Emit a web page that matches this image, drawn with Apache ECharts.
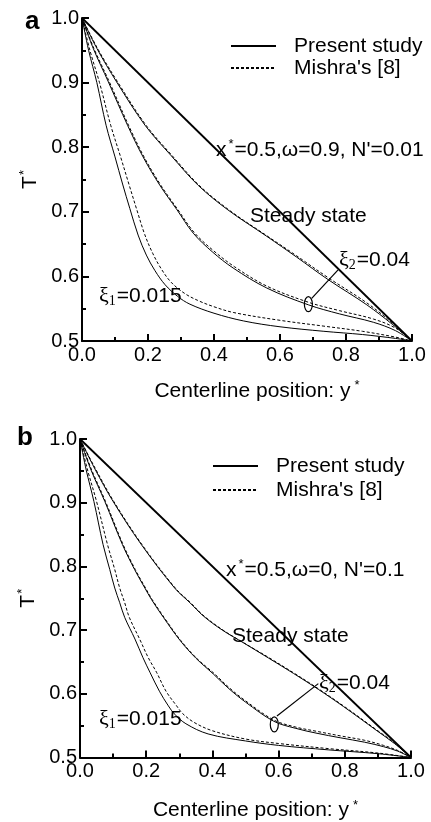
<!DOCTYPE html>
<html>
<head>
<meta charset="utf-8">
<script src="https://cdn.jsdelivr.net/npm/echarts@6/dist/echarts.min.js"></script>
<style>
html,body{margin:0;padding:0;background:#fff;}
#c{width:431px;height:822px;}
</style>
</head>
<body>
<div id="c"></div>
<script>
// ---------- data (x = centerline position y*, value = T*) ----------
const xTickValues = [0.0, 0.2, 0.4, 0.6, 0.8, 1.0];
const yTickValues = [0.5, 0.6, 0.7, 0.8, 0.9, 1.0];

// Panel a : x*=0.5, omega=0.9, N'=0.01
const aSteady = [[0, 1], [1, 0.5]];
const aPresentMid = [[0,1],[0.045,0.953],[0.105,0.901],[0.191,0.834],[0.27,0.787],[0.352,0.741],[0.442,0.703],[0.56,0.662],[0.65,0.63],[0.746,0.595],[0.863,0.556],[0.94,0.526],[1,0.5]];
const aMishraMid  = [[0,1],[0.047,0.953],[0.108,0.901],[0.194,0.834],[0.273,0.787],[0.355,0.741],[0.445,0.703],[0.56,0.663],[0.65,0.632],[0.746,0.598],[0.863,0.559],[0.94,0.528],[1,0.5]];
const aPresentXi2 = [[0,1],[0.034,0.953],[0.08,0.901],[0.138,0.834],[0.185,0.785],[0.236,0.741],[0.288,0.703],[0.337,0.667],[0.395,0.638],[0.458,0.613],[0.56,0.582],[0.686,0.556],[0.78,0.542],[0.883,0.529],[0.95,0.516],[1,0.5]];
const aMishraXi2  = [[0,1],[0.036,0.953],[0.083,0.901],[0.141,0.834],[0.188,0.785],[0.239,0.741],[0.291,0.703],[0.34,0.668],[0.398,0.64],[0.462,0.615],[0.56,0.585],[0.686,0.56],[0.78,0.547],[0.883,0.534],[0.95,0.52],[1,0.5]];
const aPresentXi1 = [[0,1],[0.02,0.95],[0.045,0.9],[0.073,0.834],[0.1,0.785],[0.123,0.743],[0.145,0.705],[0.17,0.664],[0.195,0.633],[0.221,0.609],[0.252,0.587],[0.29,0.569],[0.327,0.557],[0.4,0.543],[0.49,0.531],[0.6,0.522],[0.733,0.515],[0.85,0.51],[0.95,0.504],[1,0.5]];
const aMishraXi1  = [[0,1],[0.024,0.95],[0.053,0.9],[0.087,0.834],[0.117,0.785],[0.142,0.743],[0.165,0.705],[0.19,0.665],[0.215,0.635],[0.241,0.611],[0.27,0.591],[0.31,0.574],[0.35,0.563],[0.4,0.553],[0.46,0.544],[0.6,0.532],[0.733,0.523],[0.85,0.515],[0.95,0.506],[1,0.5]];

// Panel b : x*=0.5, omega=0, N'=0.1
const bSteady = [[0, 1], [1, 0.5]];
const bPresentMid = [[0,1],[0.045,0.953],[0.1,0.902],[0.185,0.8345],[0.286,0.766],[0.332,0.743],[0.373,0.722],[0.43,0.7],[0.494,0.68],[0.57,0.656],[0.645,0.632],[0.72,0.607],[0.796,0.58],[0.897,0.542],[0.95,0.522],[1,0.5]];
const bMishraMid  = [[0,1],[0.047,0.953],[0.102,0.902],[0.187,0.8345],[0.288,0.766],[0.334,0.743],[0.375,0.722],[0.432,0.7],[0.495,0.68],[0.57,0.657],[0.645,0.633],[0.72,0.608],[0.796,0.581],[0.897,0.543],[0.95,0.523],[1,0.5]];
const bPresentXi2 = [[0,1],[0.032,0.953],[0.075,0.902],[0.128,0.8345],[0.165,0.795],[0.196,0.766],[0.216,0.748],[0.252,0.72],[0.302,0.684],[0.35,0.656],[0.403,0.631],[0.45,0.608],[0.5,0.587],[0.585,0.557],[0.65,0.546],[0.716,0.538],[0.786,0.531],[0.86,0.524],[0.917,0.517],[0.96,0.51],[1,0.5]];
const bMishraXi2  = [[0,1],[0.034,0.953],[0.077,0.902],[0.13,0.8345],[0.167,0.795],[0.198,0.766],[0.218,0.748],[0.254,0.72],[0.304,0.684],[0.352,0.656],[0.405,0.632],[0.452,0.609],[0.5,0.589],[0.585,0.559],[0.65,0.548],[0.716,0.541],[0.786,0.534],[0.86,0.527],[0.917,0.519],[0.96,0.511],[1,0.5]];
const bPresentXi1 = [[0,1],[0.018,0.953],[0.042,0.902],[0.0696,0.8345],[0.09,0.795],[0.105,0.766],[0.12,0.743],[0.135,0.72],[0.166,0.686],[0.19,0.657],[0.212,0.633],[0.24,0.604],[0.267,0.581],[0.286,0.568],[0.32,0.553],[0.387,0.537],[0.5,0.526],[0.6,0.519],[0.75,0.512],[0.9,0.506],[1,0.5]];
const bMishraXi1  = [[0,1],[0.022,0.953],[0.05,0.902],[0.083,0.8345],[0.105,0.795],[0.12,0.766],[0.135,0.743],[0.149,0.72],[0.181,0.685],[0.206,0.657],[0.232,0.633],[0.26,0.604],[0.292,0.581],[0.31,0.569],[0.345,0.555],[0.4,0.542],[0.5,0.529],[0.6,0.522],[0.75,0.514],[0.9,0.507],[1,0.5]];

// annotation anchors (data coordinates): pointer start, pointer end, ellipse centre
const aPointer = [[0.776, 0.61], [0.696, 0.566]];
const aEllipse = [0.686, 0.557];
const bPointer = [[0.72, 0.616], [0.595, 0.565]];
const bEllipse = [0.587, 0.552];

const legendNames = ['Present study', "Mishra's [8]"];

// ---------- chart ----------
const FONT = "'Liberation Sans', Arial, sans-serif";
const chart = echarts.init(document.getElementById('c'), null, {renderer: 'canvas'});

function xAx(gi, gap) {
  return {
    type: 'value', gridIndex: gi, min: 0, max: 1, interval: 0.2,
    name: '{t|Centerline position: y}{s|*}',
    nameLocation: 'middle', nameGap: gap,
    nameTextStyle: {
      rich: {
        t: {fontSize: 21, fontFamily: FONT, color: '#000', lineHeight: 24, padding: [0, 0, 0, 20]},
        s: {fontSize: 13, fontFamily: FONT, color: '#000', lineHeight: 12, verticalAlign: 'top', padding: [0, 0, 0, 4]}
      }
    },
    axisLine: {show: true, onZero: false, lineStyle: {color: '#000', width: 2}},
    axisTick: {show: true, inside: true, length: 7, lineStyle: {color: '#000', width: 2}},
    minorTick: {show: true, splitNumber: 2, length: 4, lineStyle: {color: '#000', width: 2}},
    splitLine: {show: false}, minorSplitLine: {show: false},
    axisLabel: {color: '#000', fontSize: 20, fontFamily: FONT, margin: 4,
      formatter: v => Number(v).toFixed(1)}
  };
}
function yAx(gi) {
  return {
    type: 'value', gridIndex: gi, min: 0.5, max: 1.0, interval: 0.1,
    name: '{t|T}{s|*}',
    nameLocation: 'middle', nameGap: 40, nameRotate: 90,
    nameTextStyle: {
      rich: {
        t: {fontSize: 21, fontFamily: FONT, color: '#000', lineHeight: 24},
        s: {fontSize: 13, fontFamily: FONT, color: '#000', lineHeight: 12, verticalAlign: 'top', padding: [0, 0, 0, 1]}
      }
    },
    axisLine: {show: true, onZero: false, lineStyle: {color: '#000', width: 2}},
    axisTick: {show: true, inside: true, length: 7, lineStyle: {color: '#000', width: 2}},
    minorTick: {show: true, splitNumber: 2, length: 4, lineStyle: {color: '#000', width: 2}},
    splitLine: {show: false}, minorSplitLine: {show: false},
    axisLabel: {color: '#000', fontSize: 20, fontFamily: FONT, margin: 3,
      formatter: v => Number(v).toFixed(1)}
  };
}
function solid(data, gi, w) {
  return {type: 'line', name: legendNames[0], xAxisIndex: gi, yAxisIndex: gi, data: data,
    showSymbol: false, symbol: 'none', smooth: 0.35, animation: false,
    itemStyle: {color: '#000'},
    lineStyle: {color: '#000', width: w || 1, type: 'solid'}, z: 3};
}
function dashed(data, gi) {
  return {type: 'line', name: legendNames[1], xAxisIndex: gi, yAxisIndex: gi, data: data,
    showSymbol: false, symbol: 'none', smooth: 0.35, animation: false,
    itemStyle: {color: '#000'},
    lineStyle: {color: '#000', width: 1, type: [3, 2]}, z: 2};
}
function legend(left, top, lh) {
  return {
    show: true, orient: 'vertical', left: left, top: top, itemWidth: 45, itemHeight: 12,
    itemGap: 0, selectedMode: false, data: legendNames,
    itemStyle: {opacity: 0},
    textStyle: {fontSize: 21, fontFamily: FONT, color: '#000', lineHeight: lh, padding: [0, 0, 0, 13]}
  };
}

const option = {
  backgroundColor: '#fff',
  animation: false,
  grid: [
    {left: 82, top: 18, width: 330, height: 323, containLabel: false},
    {left: 80, top: 439, width: 331, height: 322, containLabel: false}
  ],
  xAxis: [xAx(0, 38), xAx(1, 41)],
  yAxis: [yAx(0), yAx(1)],
  legend: [legend(225, 30, 22), legend(207, 449, 24)],
  series: [
    solid(aPresentMid, 0), dashed(aMishraMid, 0),
    solid(aPresentXi2, 0), dashed(aMishraXi2, 0),
    solid(aPresentXi1, 0), dashed(aMishraXi1, 0),
    solid(aSteady, 0, 1.8),
    solid(bPresentMid, 1), dashed(bMishraMid, 1),
    solid(bPresentXi2, 1), dashed(bMishraXi2, 1),
    solid(bPresentXi1, 1), dashed(bMishraXi1, 1),
    solid(bSteady, 1, 1.8)
  ]
};
chart.setOption(option);

// ---------- annotations ----------
const richBase = {
  n: {fontSize: 21, fontFamily: FONT, color: '#000', lineHeight: 24},
  g: {fontSize: 22, fontFamily: "'Liberation Serif', 'DejaVu Serif', serif", color: '#000', lineHeight: 24},
  sup: {fontSize: 13, fontFamily: FONT, color: '#000', lineHeight: 12, verticalAlign: 'top', padding: [0, 1, 0, 2]},
  sub: {fontSize: 14, fontFamily: "'Liberation Serif', 'DejaVu Serif', serif", color: '#000', lineHeight: 12, verticalAlign: 'bottom', padding: [0, 1, 0, 0]}
};
function txt(x, y, text) {
  return {type: 'text', x: x, y: y, z: 10, silent: true,
    style: {text: text, rich: richBase, verticalAlign: 'middle', align: 'left', fill: '#000'}};
}
function px(gi, p) { return chart.convertToPixel({gridIndex: gi}, p); }
function pointer(gi, pts, ell) {
  const p0 = px(gi, pts[0]), p1 = px(gi, pts[1]), e = px(gi, ell);
  return [
    {type: 'line', z: 10, silent: true, shape: {x1: p0[0], y1: p0[1], x2: p1[0], y2: p1[1]},
      style: {stroke: '#000', lineWidth: 1.2}},
    {type: 'ellipse', z: 10, silent: true, shape: {cx: e[0], cy: e[1], rx: 4, ry: 7.5},
      style: {stroke: '#000', lineWidth: 1.2, fill: 'none'}}
  ];
}

chart.setOption({
  graphic: [
    {type: 'text', x: 25, y: 22, z: 10, silent: true,
      style: {text: 'a', font: "bold 26px " + FONT, fill: '#000', verticalAlign: 'middle'}},
    {type: 'text', x: 17, y: 438, z: 10, silent: true,
      style: {text: 'b', font: "bold 26px " + FONT, fill: '#000', verticalAlign: 'middle'}},
    txt(216, 150, "{n|x}{sup|*}{n|=0.5,ω=0.9, N'=0.01}"),
    txt(250, 216, "{n|Steady state}"),
    txt(339, 260, "{g|ξ}{sub|2}{n|=0.04}"),
    txt(99, 296, "{g|ξ}{sub|1}{n|=0.015}"),
    txt(226, 570, "{n|x}{sup|*}{n|=0.5,ω=0, N'=0.1}"),
    txt(232, 636, "{n|Steady state}"),
    txt(319, 683, "{g|ξ}{sub|2}{n|=0.04}"),
    txt(99, 719, "{g|ξ}{sub|1}{n|=0.015}")
  ].concat(pointer(0, aPointer, aEllipse), pointer(1, bPointer, bEllipse))
});
</script>
</body>
</html>
